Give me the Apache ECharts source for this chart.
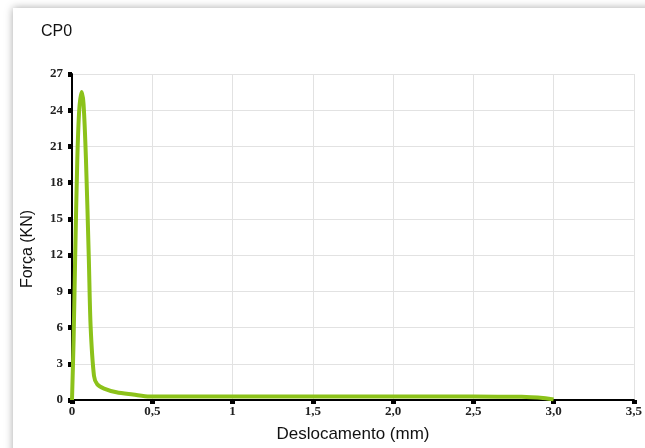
<!DOCTYPE html>
<html><head><meta charset="utf-8">
<script src="https://cdn.jsdelivr.net/npm/echarts@6/dist/echarts.min.js"></script>
<style>html,body{margin:0;padding:0;background:#fff}#c{width:645px;height:448px}</style>
</head><body><div id="c"></div>
<script>
const xTickLabels = ['0','0,5','1','1,5','2,0','2,5','3,0','3,5'];
const yTickLabels = ['0','3','6','9','12','15','18','21','24','27'];
const deslocamento = [0, 0.01, 0.02, 0.033, 0.045, 0.06, 0.072, 0.087, 0.105, 0.116, 0.137, 0.157, 0.2, 0.277, 0.38, 0.484, 1.0, 1.5, 2.0, 2.5, 2.8, 2.95, 3.0];
const forca =        [0, 5.0, 12.0, 19.9, 24.0, 25.5, 24.5, 19.9, 11.6, 6.1, 2.0, 1.3, 0.95, 0.64, 0.45, 0.28, 0.28, 0.28, 0.28, 0.28, 0.27, 0.15, 0.05];

const chart = echarts.init(document.getElementById('c'), null, {renderer:'canvas'});
const serif = {fontFamily:'Liberation Serif', fontWeight:'bold', fontSize:13, color:'#222'};
chart.setOption({
  animation:false,
  backgroundColor:'#fff',
  graphic:[{type:'rect', shape:{x:13,y:8,width:700,height:500}, style:{fill:'#fff', shadowBlur:8, shadowColor:'rgba(0,0,0,0.35)', shadowOffsetX:0, shadowOffsetY:0}, z:-10}],
  title:{text:'CP0', left:36, top:19, textStyle:{fontFamily:'Liberation Sans', fontWeight:'normal', fontSize:16, color:'#111'}},
  grid:{left:72, right:9, top:74, bottom:47},
  xAxis:{type:'value', min:0, max:3.5, interval:0.5,
    name:'Deslocamento (mm)', nameLocation:'middle', nameGap:26,
    nameTextStyle:{fontFamily:'Liberation Sans', fontSize:17, color:'#111'},
    axisLine:{lineStyle:{color:'#000', width:2}},
    axisTick:{show:true, length:4, lineStyle:{color:'#000', width:5}},
    axisLabel:{...serif, margin:5, formatter:(v)=>xTickLabels[Math.round(v/0.5)]},
    splitLine:{show:true, lineStyle:{color:'#e2e2e2', width:1}}},
  yAxis:{type:'value', min:0, max:27, interval:3,
    name:'Força (KN)', nameLocation:'middle', nameGap:36,
    nameTextStyle:{fontFamily:'Liberation Sans', fontSize:16, color:'#111', padding:[0,24,0,0]},
    axisLine:{show:true, lineStyle:{color:'#000', width:2}},
    axisTick:{show:true, length:4, lineStyle:{color:'#000', width:5}},
    axisLabel:{...serif, margin:9, formatter:(v)=>yTickLabels[Math.round(v/3)]},
    splitLine:{show:true, lineStyle:{color:'#e2e2e2', width:1}}},
  series:[{type:'line', smooth:0.3, symbol:'none',
    data:deslocamento.map((x,i)=>[x,forca[i]]),
    lineStyle:{color:'#8cc21a', width:4}}]
});
</script></body></html>
